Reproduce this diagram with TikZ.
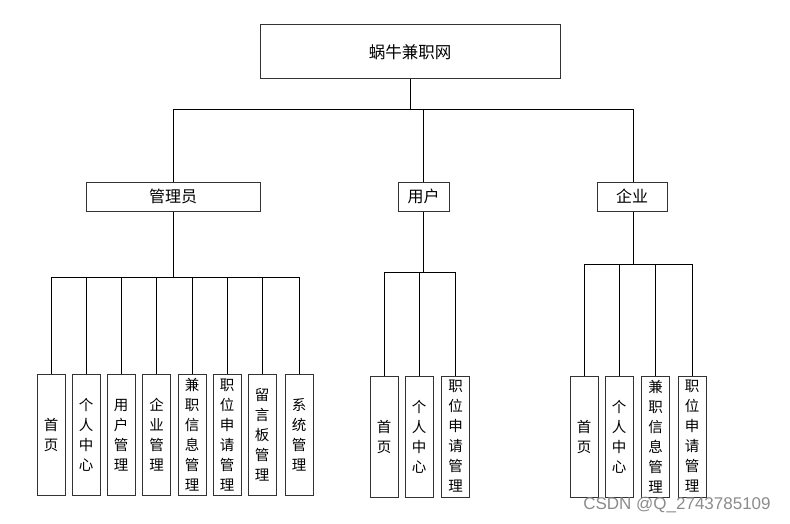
\documentclass[tikz,border=0pt]{standalone}
\usepackage{fontspec}
\usepackage{tikz}
\newfontfamily\cjk{Noto Sans CJK SC}
\newfontfamily\wmfont{Liberation Sans}

\tikzset{
  topbox/.style={draw=black!80, line width=1pt, minimum width=300pt, minimum height=54pt,
    inner sep=0pt, font=\cjk\fontsize{16.5}{19}\selectfont},
  midbox/.style={draw=black!80, line width=1pt, minimum height=29pt,
    inner sep=0pt, font=\cjk\fontsize{16}{19}\selectfont},
  leafbox/.style={draw=black!80, line width=1pt, minimum width=28pt, minimum height=121pt,
    inner sep=0pt, align=center, font=\cjk\fontsize{14.5}{20}\selectfont},
  link/.style={line width=1pt, black}
}

\begin{document}
\begin{tikzpicture}[x=1pt, y=-1pt]
            \useasboundingbox (0, 0) rectangle (790, 524);

            % top
            \node[topbox] (wn) at (410, 52) {蜗牛兼职网};

            % second level
            \node[midbox, minimum width=174pt] (gly) at (173, 196.5) {管理员};
            \node[midbox, minimum width=51pt] (yh) at (423.5, 196.5) {用户};
            \node[midbox, minimum width=70pt] (qy) at (632, 196.5) {企业};

            % admin items
            \node[leafbox] (gsy) at (51, 435) {首\\页};
            \node[leafbox] (ggr) at (86, 435) {个\\人\\中\\心};
            \node[leafbox] (gyh) at (121, 435) {用\\户\\管\\理};
            \node[leafbox] (gqy) at (156.5, 435) {企\\业\\管\\理};
            \node[leafbox] (gjz) at (192, 435) {兼\\职\\信\\息\\管\\理};
            \node[leafbox] (gzw) at (227, 435) {职\\位\\申\\请\\管\\理};
            \node[leafbox] (gly7) at (262, 435) {留\\言\\板\\管\\理};
            \node[leafbox] (gxt) at (299, 435) {系\\统\\管\\理};

            % user items
            \node[leafbox] (usy) at (384, 436.5) {首\\页};
            \node[leafbox] (ugr) at (419, 436.5) {个\\人\\中\\心};
            \node[leafbox] (uzw) at (455.5, 436.5) {职\\位\\申\\请\\管\\理};

            % company items
            \node[leafbox] (qsy) at (584, 436.5) {首\\页};
            \node[leafbox] (qgr) at (619, 436.5) {个\\人\\中\\心};
            \node[leafbox] (qjz) at (655.5, 436.5) {兼\\职\\信\\息\\管\\理};
            \node[leafbox] (qzw) at (692, 436.5) {职\\位\\申\\请\\管\\理};

            % junctions
            \coordinate (j0) at (410, 110);
            \coordinate (j1) at (173, 277);
            \coordinate (j2) at (423, 272);
            \coordinate (j3) at (633, 264);

            \draw[link] (wn.south) -- (j0);
            \draw[link] (gly.north) |- (j0);
            \draw[link] (yh.north -| j2) |- (j0);
            \draw[link] (qy.north -| j3) |- (j0);

            \draw[link] (gly.south) -- (j1);
            \draw[link] (gsy.north) |- (j1);
            \draw[link] (ggr.north) |- (j1);
            \draw[link] (gyh.north) |- (j1);
            \draw[link] (gqy.north) |- (j1);
            \draw[link] (gjz.north) |- (j1);
            \draw[link] (gzw.north) |- (j1);
            \draw[link] (gly7.north) |- (j1);
            \draw[link] (gxt.north) |- (j1);

            \draw[link] (yh.south -| j2) -- (j2);
            \draw[link] (usy.north) |- (j2);
            \draw[link] (ugr.north) |- (j2);
            \draw[link] (uzw.north) |- (j2);

            \draw[link] (qy.south -| j3) -- (j3);
            \draw[link] (qsy.north) |- (j3);
            \draw[link] (qgr.north) |- (j3);
            \draw[link] (qjz.north) |- (j3);
            \draw[link] (qzw.north) |- (j3);

            % watermark
            \node[text=black!45, font=\wmfont\fontsize{17}{20}\selectfont, inner sep=0pt] (wm) at (677, 505) {CSDN @Q\_2743785109};
        \end{tikzpicture}
\end{document}
